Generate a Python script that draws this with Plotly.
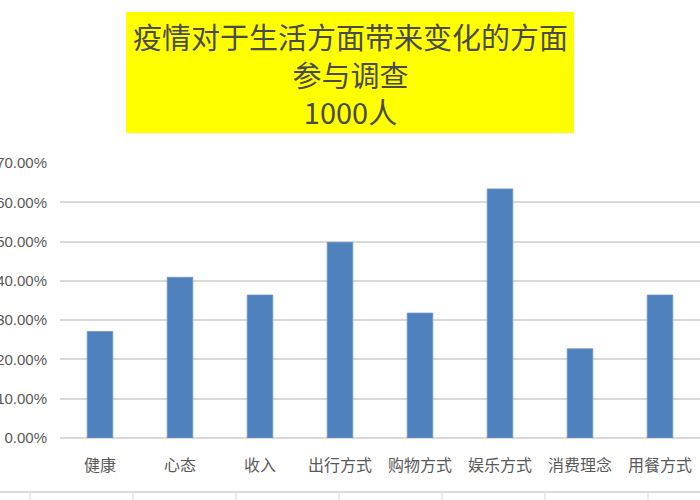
import plotly.graph_objects as go

# 调查数据 (1000人)
categories = ["健康", "心态", "收入", "出行方式", "购物方式", "娱乐方式", "消费理念", "用餐方式"]
share = [0.271, 0.409, 0.364, 0.498, 0.318, 0.634, 0.227, 0.364]
title_lines = ["疫情对于生活方面带来变化的方面", "参与调查", "1000人"]

W, H = 700, 500
ml, mr, mt, mb = 60, 0, 163, 62
pw, ph = W - ml - mr, H - mt - mb

def px_x(x):
    return (x - ml) / pw

def px_y(y):
    return (H - mb - y) / ph

fig = go.Figure()
fig.add_trace(go.Bar(
    x=categories, y=share,
    marker=dict(color="#4f81bd", line=dict(color="#6f96c8", width=0.8)),
    width=0.32,
))

# 黄色标题框
fig.add_shape(type="rect", xref="paper", yref="paper",
              x0=px_x(126), x1=px_x(574), y0=px_y(133), y1=px_y(12),
              fillcolor="#ffff00", line=dict(width=0), layer="below")
fig.add_annotation(xref="paper", yref="paper", x=px_x(350), y=px_y(74),
                   text="<br>".join(title_lines), showarrow=False,
                   font=dict(family="Noto Sans CJK SC", size=29, color="#4a4a4a"),
                   xanchor="center", yanchor="middle", align="center")

# 底部表格线
fig.add_shape(type="line", xref="paper", yref="paper",
              x0=px_x(0), x1=px_x(W), y0=px_y(492), y1=px_y(492),
              line=dict(color="#d0d0d0", width=1.5))
for xv in [30, 133, 236, 339, 442, 545, 648]:
    fig.add_shape(type="line", xref="paper", yref="paper",
                  x0=px_x(xv), x1=px_x(xv), y0=px_y(493), y1=px_y(500),
                  line=dict(color="#d8d8d8", width=1))

fig.update_layout(
    width=W, height=H,
    margin=dict(l=ml, r=mr, t=mt, b=mb, autoexpand=False),
    plot_bgcolor="white", paper_bgcolor="white",
    showlegend=False,
    font=dict(family="Noto Sans CJK SC", color="#595959"),
)
fig.update_xaxes(
    range=[-0.5, 7.5], showgrid=False, showline=False, ticks="",
    tickfont=dict(family="Noto Sans CJK SC", size=16, color="#595959"),
    ticklabelstandoff=16, automargin=False,
)
fig.update_yaxes(
    range=[0, 0.7], dtick=0.1, tickformat=".2%",
    showgrid=True, gridcolor="#d9d9d9", gridwidth=1.5,
    zeroline=True, zerolinecolor="#d9d9d9", zerolinewidth=1.5,
    showline=False, ticks="",
    tickfont=dict(family="Liberation Sans", size=15, color="#595959"),
    ticklabelstandoff=12, automargin=False,
)

# 页面默认边距会让图表偏移 8px, 去掉
fig.write_html("out.html", config={"displayModeBar": False},
               post_script="document.body.style.margin='0';")
